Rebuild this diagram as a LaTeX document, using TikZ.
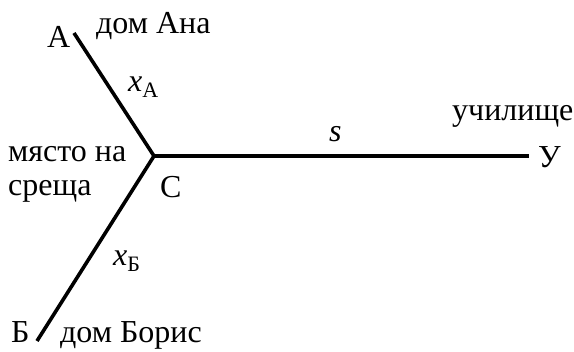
\documentclass[tikz,border=0pt]{standalone}
\usepackage{fontspec}
\setmainfont{Liberation Serif}
\begin{document}
\begin{tikzpicture}[x=1pt,y=-1pt,
  road/.style={line width=3.6pt},
  txt/.style={font=\fontsize{32}{36}\selectfont, inner sep=0pt, anchor=base west},
  lbl/.style={font=\fontsize{32}{36}\selectfont, inner sep=0pt, anchor=base west}]
\useasboundingbox (0,0) rectangle (574,352);
\coordinate (A) at (74,33);
\coordinate (C) at (154,156);
\coordinate (U) at (529,156);
\coordinate (B) at (37,341);
\draw[road] (A) -- (C);
\draw[road] (C) -- (U);
\draw[road] (C) -- (B);
\node[lbl] (lA) at (47,48) {А};
\node[txt] (hA) at (96,34) {дом Ана};
\node[lbl] (xA) at (128,92) {\textit{x}\raisebox{-6pt}{\fontsize{22}{24}\selectfont А}};
\node[txt] (m1) at (8,162) {място на};
\node[txt] (m2) at (8,196) {среща};
\node[lbl] (lC) at (160,198) {С};
\node[lbl] (s) at (329,142) {\textit{s}};
\node[txt] (sch) at (452,121) {училище};
\node[lbl] (lU) at (538,168) {У};
\node[lbl] (xB) at (113,266) {\textit{x}\raisebox{-6pt}{\fontsize{22}{24}\selectfont Б}};
\node[lbl] (lB) at (11,343) {Б};
\node[txt] (hB) at (60,343) {дом Борис};
\end{tikzpicture}
\end{document}
